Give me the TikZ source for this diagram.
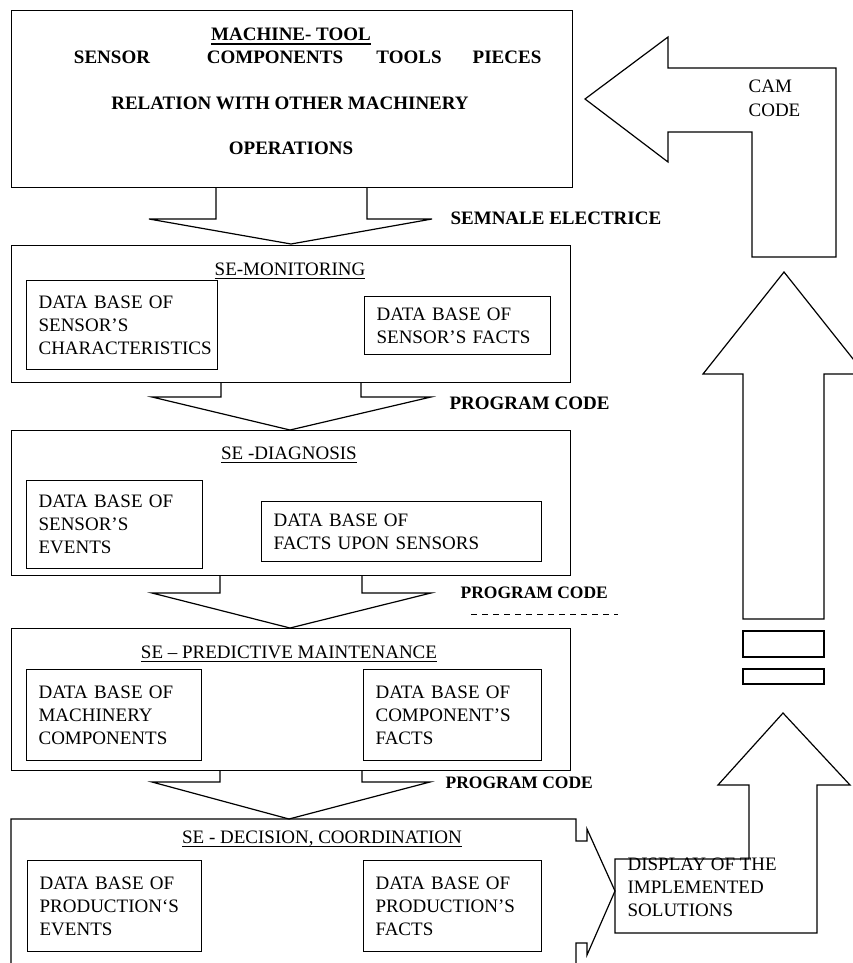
\documentclass[tikz,border=0pt]{standalone}
\usepackage{fontspec}
\setmainfont{Liberation Serif}
\newcommand{\ultitle}[1]{\vtop{\hbox{\raisebox{0pt}[\height][0pt]{#1}}\kern2.5pt\hrule height 1.1pt}}

\begin{document}
\begin{tikzpicture}[x=1pt,y=-1pt,line width=1.2pt,
    every node/.style={font=\fontsize{19}{23}\selectfont, inner sep=0pt},
    hdr/.style={font=\fontsize{19}{23}\selectfont\bfseries, anchor=base},
    lbl/.style={font=\fontsize{19}{23}\selectfont\bfseries, anchor=base west},
    lblsmall/.style={font=\fontsize{17.5}{21}\selectfont\bfseries, anchor=base west},
    title/.style={anchor=base},
    frame/.style={draw, anchor=north west},
    dbox/.style={draw, anchor=north west, align=left, inner xsep=12pt}]
  \useasboundingbox (0,0) rectangle (853,963);

  % outer frames
  \node[frame, minimum width=561, minimum height=177] (machine) at (11,10) {};
  \node[frame, minimum width=559, minimum height=137] (monitor) at (11,245) {};
  \node[frame, minimum width=559, minimum height=145] (diagnosis) at (11,430) {};
  \node[frame, minimum width=559, minimum height=142] (predict) at (11,628) {};
  \draw (11,975) -- (11,819) -- (576,819) -- (576,841) -- (587,841) -- (587,829)
    -- (615,891) -- (587,955) -- (587,943) -- (576,943) -- (576,975);

  % machine-tool
  \draw
    (291,41) node[hdr] (mtool){\ultitle{MACHINE- TOOL}}
    (112,64) node[hdr] (sensor){SENSOR}
    (275,64) node[hdr] (comp){COMPONENTS}
    (409,64) node[hdr] (tools){TOOLS}
    (507,64) node[hdr] (pieces){PIECES}
    (290,110) node[hdr] (relation){RELATION WITH OTHER MACHINERY}
    (291,154) node[hdr] (oper){OPERATIONS};

  % titles
  \draw
    (290,275) node[title] (tmon){\ultitle{SE-MONITORING}}
    (289,459) node[title] (tdiag){\ultitle{SE -DIAGNOSIS}}
    (289,658) node[title] (tpred){\ultitle{SE -- PREDICTIVE MAINTENANCE}}
    (322,843) node[title] (tdec){\ultitle{SE - DECISION, COORDINATION}};

  % data bases
  \node[dbox, text width=167, minimum height=89] (monchar) at (26,280)
    {DATA BASE OF\\SENSOR’S\\CHARACTERISTICS};
  \node[dbox, text width=162, minimum height=58] (monfacts) at (364,296)
    {DATA BASE OF\\SENSOR’S FACTS};
  \node[dbox, text width=152, minimum height=88] (diagevents) at (26,480)
    {DATA BASE OF\\SENSOR’S\\EVENTS};
  \node[dbox, text width=256, minimum height=60] (diagfacts) at (261,501)
    {DATA BASE OF\\FACTS UPON SENSORS};
  \node[dbox, text width=151, minimum height=91] (predmach) at (26,669)
    {DATA BASE OF\\MACHINERY\\COMPONENTS};
  \node[dbox, text width=154, minimum height=91] (predfacts) at (363,669)
    {DATA BASE OF\\COMPONENT’S\\FACTS};
  \node[dbox, text width=150, minimum height=91] (decevents) at (27,860)
    {DATA BASE OF\\PRODUCTION‘S\\EVENTS};
  \node[dbox, text width=154, minimum height=91] (decfacts) at (363,860)
    {DATA BASE OF\\PRODUCTION’S\\FACTS};

  % block arrows down
  \draw (216,187) -- (216,219) -- (149,219) -- (291,244) -- (432,219) -- (367,219) -- (367,187);
  \draw (221,382) -- (221,397) -- (152,397) -- (290,430) -- (431,397) -- (361,397) -- (361,382);
  \draw (220,575) -- (220,593) -- (152,593) -- (290,628) -- (431,593) -- (362,593) -- (362,575);
  \draw (220,770) -- (220,782) -- (152,782) -- (289,819) -- (430,782) -- (362,782) -- (362,770);

  % signal labels
  \draw
    (450,224) node[lbl] (semnale){SEMNALE ELECTRICE}
    (449,409) node[lbl] (code1){PROGRAM CODE}
    (460,598) node[lblsmall] (code2){PROGRAM CODE}
    (445,788) node[lblsmall] (code3){PROGRAM CODE};
  \coordinate (dashA) at (471,614);
  \coordinate (dashB) at (618,614);
  \draw[line width=1pt, dash pattern=on 6pt off 5pt] (dashA) -- (dashB);

  % return path
  \draw (585,99) -- (668,37) -- (668,68) -- (836,68) -- (836,257) -- (752,257)
    -- (752,132) -- (668,132) -- (668,162) -- cycle;
  \draw
    (748,93) node[anchor=base west] (cam){CAM}
    (748,117) node[anchor=base west] (camcode){CODE};
  \draw (743,619) -- (743,374) -- (703,374) -- (784,272) -- (865,374) -- (824,374)
    -- (824,619) -- cycle;
  \draw (743,631) rectangle (824,657);
  \draw (743,669) rectangle (824,684);
  \draw (615,859) -- (749,859) -- (749,785) -- (718,785) -- (783,713) -- (850,785)
    -- (817,785) -- (817,933) -- (615,933) -- cycle;
  \node[anchor=north west, align=left] (display) at (627,857)
    {DISPLAY OF THE\\IMPLEMENTED\\SOLUTIONS};
\end{tikzpicture}
\end{document}
